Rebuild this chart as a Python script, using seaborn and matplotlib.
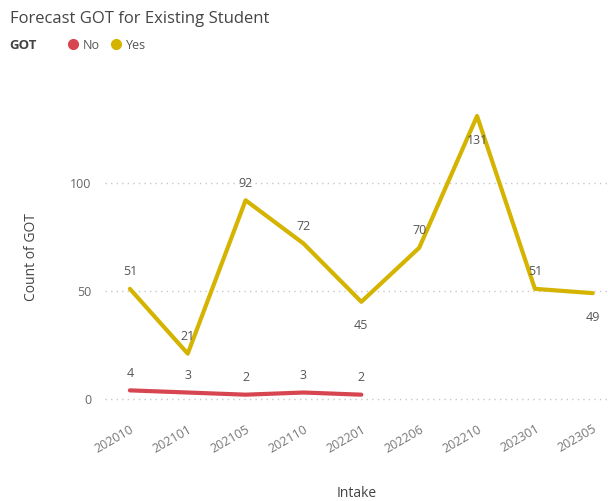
import matplotlib
matplotlib.use("Agg")
import matplotlib.pyplot as plt
from matplotlib.lines import Line2D
import seaborn as sns
import pandas as pd

# Intake periods and counts per GOT outcome
intakes = ["202010", "202101", "202105", "202110", "202201",
           "202206", "202210", "202301", "202305"]
yes_counts = [51, 21, 92, 72, 45, 70, 131, 51, 49]
no_intakes = ["202010", "202101", "202105", "202110", "202201"]
no_counts = [4, 3, 2, 3, 2]

# label placement per point: +1 above the line, -1 below
yes_label_side = [1, 1, 1, 1, -1, 1, -1, 1, -1]
no_label_side = [1, 1, 1, 1, 1]

colors = {"No": "#D64550", "Yes": "#D4B400"}

df = pd.concat([
    pd.DataFrame({"Intake": no_intakes, "Count": no_counts, "GOT": "No"}),
    pd.DataFrame({"Intake": intakes, "Count": yes_counts, "GOT": "Yes"}),
], ignore_index=True)
df["Intake"] = pd.Categorical(df["Intake"], categories=intakes, ordered=True)

sns.set_theme(style="white")
plt.rcParams["font.family"] = ["Open Sans", "DejaVu Sans"]

fig = plt.figure(figsize=(6.08, 5.01), dpi=100)
ax = fig.add_axes([0.1727, 0.1816, 0.827, 0.6088])

sns.lineplot(data=df, x="Intake", y="Count", hue="GOT", palette=colors,
             hue_order=["No", "Yes"], linewidth=3, legend=False, ax=ax,
             sort=False)

ax.set_xlim(-0.43, 8.26)
ax.set_ylim(-5.1, 136.1)
ax.set_yticks([0, 50, 100])
ax.grid(axis="y", color="#c8c8c8", linestyle=(0, (1, 3)), linewidth=1)
ax.grid(axis="x", visible=False)
for s in ax.spines.values():
    s.set_visible(False)

ax.tick_params(axis="y", length=0, pad=10, labelsize=9, labelcolor="#666666")
ax.tick_params(axis="x", length=0, pad=9, labelsize=9, labelcolor="#777777")
plt.setp(ax.get_xticklabels(), rotation=30, ha="right", rotation_mode="anchor")

ax.set_xlabel("Intake", fontsize=10, color="#444444", labelpad=22)
ax.set_ylabel("Count of GOT", fontsize=10, color="#444444", labelpad=22)

def annotate(xs, ys, sides):
    for xv, yv, side in zip(xs, ys, sides):
        ax.annotate(str(yv), (intakes.index(xv), yv),
                    xytext=(0, 17 if side > 0 else -24),
                    textcoords="offset pixels", ha="center", va="center",
                    fontsize=9, color="#555555")

annotate(intakes, yes_counts, yes_label_side)
annotate(no_intakes, no_counts, no_label_side)

fig.text(0.016, 0.963, "Forecast GOT for Existing Student", fontsize=12,
         color="#444444", va="center", ha="left")
fig.text(0.016, 0.91, "GOT", fontsize=9.5, fontweight="bold",
         color="#444444", va="center", ha="left")

handles = [Line2D([], [], marker="o", linestyle="", markersize=7,
                  markerfacecolor=colors[k], markeredgecolor=colors[k])
           for k in ["No", "Yes"]]
leg = fig.legend(handles, ["No", "Yes"], loc="center left",
                 bbox_to_anchor=(0.113, 0.91), ncol=2, frameon=False,
                 handletextpad=0.45, columnspacing=0.9, fontsize=9,
                 handlelength=0.7, borderpad=0, borderaxespad=0)
for t in leg.get_texts():
    t.set_color("#555555")

fig.savefig("out.png", dpi=100)
